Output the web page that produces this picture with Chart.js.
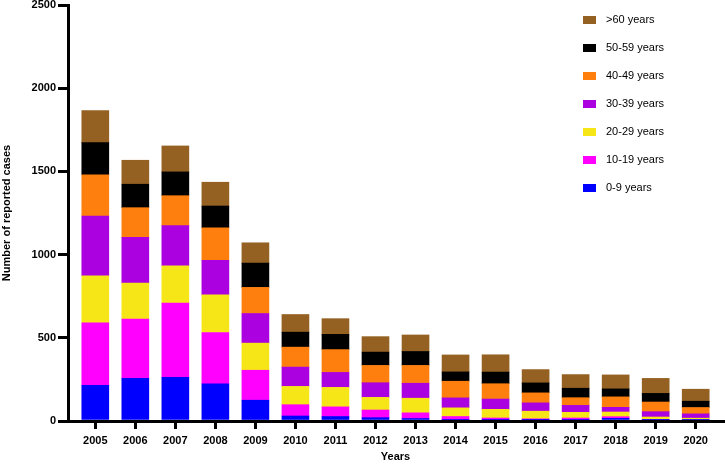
<!DOCTYPE html>
<html>
<head>
<meta charset="utf-8">
<script src="https://cdn.jsdelivr.net/npm/chart.js@4.4.1/dist/chart.umd.min.js"></script>
<style>
  html, body { margin: 0; padding: 0; background: #fff; }
  #chartBox { width: 725px; height: 464px; position: relative; }
</style>
</head>
<body>
<div id="chartBox"><canvas id="casesChart" width="725" height="464"></canvas></div>
<script>
const years = [2005, 2006, 2007, 2008, 2009, 2010, 2011, 2012, 2013, 2014, 2015, 2016, 2017, 2018, 2019, 2020];

// reported cases per age group, one value per year
const age0to9   = [215, 257, 263, 223, 125, 30, 27, 20, 15, 5, 4, 3, 6, 16, 3, 2];
const age10to19 = [375, 355, 445, 309, 180, 68, 58, 46, 34, 22, 14, 10, 12, 10, 5, 3];
const age20to29 = [283, 217, 225, 226, 163, 110, 117, 76, 88, 52, 52, 46, 34, 28, 16, 12];
const age30to39 = [359, 275, 241, 207, 178, 116, 90, 88, 90, 60, 62, 50, 42, 28, 32, 26];
const age40to49 = [248, 178, 180, 196, 157, 120, 137, 104, 107, 100, 92, 60, 46, 63, 58, 38];
const age50to59 = [193, 141, 143, 131, 146, 90, 92, 80, 84, 56, 70, 60, 57, 48, 52, 38];
const age60plus = [193, 144, 156, 143, 122, 106, 94, 93, 99, 102, 104, 80, 82, 84, 90, 72];

const groupLabels = ["0-9 years", "10-19 years", "20-29 years", "30-39 years", "40-49 years", "50-59 years", ">60 years"];
const yTicks = [0, 500, 1000, 1500, 2000, 2500];

const C = {
  blue: "#0000FF",
  magenta: "#FF00FF",
  yellow: "#F7E617",
  purple: "#AB00DF",
  orange: "#FF7F0E",
  black: "#000000",
  brown: "#956123",
  ink: "#000000"
};

const groups = [
  { label: groupLabels[0], values: age0to9, color: C.blue },
  { label: groupLabels[1], values: age10to19, color: C.magenta },
  { label: groupLabels[2], values: age20to29, color: C.yellow },
  { label: groupLabels[3], values: age30to39, color: C.purple },
  { label: groupLabels[4], values: age40to49, color: C.orange },
  { label: groupLabels[5], values: age50to59, color: C.black },
  { label: groupLabels[6], values: age60plus, color: C.brown }
];

Chart.defaults.font.family = "'Liberation Sans', Arial, sans-serif";
Chart.defaults.color = C.ink;

// legend on the right, top entry = last dataset
const sideLegend = {
  id: "sideLegend",
  afterDraw(chart) {
    const ctx = chart.ctx;
    const sets = chart.data.datasets.slice().reverse();
    ctx.save();
    ctx.font = "11px 'Liberation Sans', Arial, sans-serif";
    ctx.textBaseline = "middle";
    ctx.textAlign = "left";
    sets.forEach((ds, i) => {
      const y = 20 + i * 28;
      ctx.fillStyle = ds.backgroundColor;
      ctx.fillRect(583, y - 4, 13, 8);
      ctx.fillStyle = C.ink;
      ctx.fillText(ds.label, 606, y);
    });
    ctx.restore();
  }
};

const boldTick = { size: 11, weight: "bold" };

new Chart(document.getElementById("casesChart").getContext("2d"), {
  type: "bar",
  data: {
    datasets: groups.map(g => ({
      label: g.label,
      data: years.map((yr, i) => ({ x: yr, y: g.values[i] })),
      backgroundColor: g.color,
      borderWidth: 0,
      barThickness: 27,
      grouped: false
    }))
  },
  options: {
    responsive: false,
    animation: false,
    layout: { padding: { top: 5, right: 2, left: 0, bottom: 0 } },
    plugins: { legend: { display: false }, tooltip: { enabled: false } },
    scales: {
      x: {
        type: "linear",
        offset: false,
        min: 2004.318,
        max: 2020.682,
        afterBuildTicks: s => { s.ticks = years.map(v => ({ value: v })); },
        afterFit: s => { s.height = 43; s.paddingLeft = 0; s.paddingRight = 0; },
        ticks: { callback: v => String(v), font: boldTick, color: C.ink, padding: 5, autoSkip: false, maxRotation: 0 },
        grid: { offset: false, drawOnChartArea: false, color: C.ink, lineWidth: 3, tickLength: 8 },
        border: { color: C.ink, width: 3, z: 1 },
        title: { display: true, text: "Years", font: boldTick, color: C.ink, padding: { top: 0, bottom: 0 } }
      },
      y: {
        stacked: true,
        min: 0,
        max: 2500,
        afterBuildTicks: s => { s.ticks = yTicks.map(v => ({ value: v })); },
        afterFit: s => { s.width = 68; s.paddingTop = 0; s.paddingBottom = 0; },
        ticks: { callback: v => String(v), font: boldTick, color: C.ink, padding: 2 },
        grid: { drawOnChartArea: false, color: C.ink, lineWidth: 3, tickLength: 10 },
        border: { color: C.ink, width: 3, z: 1 },
        title: { display: true, text: "Number of reported cases", font: boldTick, color: C.ink, padding: { top: 0, bottom: 0 } }
      }
    }
  },
  plugins: [sideLegend]
});
</script>
</body>
</html>
